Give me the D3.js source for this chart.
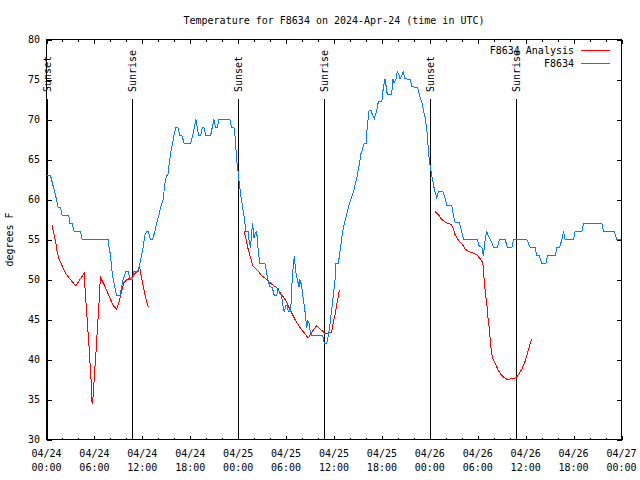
<!DOCTYPE html>
<html>
<head>
<meta charset="utf-8">
<script src="https://cdn.jsdelivr.net/npm/d3@7"></script>
<style>
  html, body { margin: 0; padding: 0; background: #fff; }
  svg text { font-family: "DejaVu Sans Mono", "Liberation Mono", monospace; font-size: 10px; fill: #000; }
</style>
</head>
<body>
<svg id="chart" width="640" height="480"></svg>
<script>
// ---- DATA (hours since 2024-04-24 00:00 UTC) ----
const obsHours = [0.08,0.5,0.63,0.83,1.04,1.25,1.45,1.75,1.95,2.8,2.92,3.2,3.46,4.26,4.46,7.72,7.84,8.02,8.15,8.35,8.56,8.77,9.19,9.4,9.6,9.94,10.23,10.44,10.78,10.94,11.48,11.69,11.9,12.1,12.32,12.53,12.73,13.03,13.28,13.57,13.78,14.07,14.29,14.61,14.82,15.04,15.2,15.36,15.58,15.79,15.95,16.2,16.45,16.7,16.95,17.24,18.05,18.3,18.5,18.71,18.87,19.05,19.3,19.5,19.71,19.96,20.55,20.75,20.96,21.18,21.38,21.59,22.97,23.18,23.47,23.6,23.81,24.01,24.14,24.35,24.56,24.72,24.97,25.26,25.39,25.56,25.69,25.81,25.98,26.14,26.32,26.52,26.73,27.36,27.57,27.77,27.98,28.27,28.52,28.82,29.02,29.24,29.45,29.65,29.77,29.95,30.15,30.28,30.58,30.7,30.9,31.03,31.2,31.45,31.62,31.74,31.95,32.16,32.37,32.58,32.71,32.87,32.99,33.21,34.59,34.79,35.09,35.29,35.5,35.71,35.91,36.13,36.25,36.54,36.75,36.97,37.17,37.38,37.59,37.79,38.1,38.51,38.85,39.14,39.39,39.55,39.76,40.01,40.17,40.39,40.64,40.85,41.05,41.35,41.55,41.98,42.18,42.39,42.52,42.68,43.23,43.36,43.52,43.73,43.93,44.15,44.27,44.49,44.65,44.9,45.53,45.74,46.49,46.69,46.99,47.19,47.41,47.62,47.78,47.94,48.16,48.37,48.57,48.87,49.07,49.62,49.91,50.13,50.75,50.95,51.16,51.7,52.0,52.21,53.96,54.17,54.51,54.71,54.93,55.14,55.34,55.55,55.76,55.97,56.47,56.72,57.43,57.72,58.27,58.47,60.15,60.56,61.19,61.4,61.69,62.03,62.53,62.73,63.7,63.91,64.24,64.54,64.74,64.95,65.99,66.2,67.04,67.24,69.55,69.75,71.09,71.43,71.97];
const obsTemps = [63,63,62.5,61.7,60.9,60,59,59,58,58,57,57,56,56,55,55,54,53,51.5,50,49,48,48,49,50,51,51,50,50,51,51,52,53,54,55.5,56,56,55,55,56,57,58,59,60,62,63,63,64.5,66,67,68,69,69,68,68,67,67,68,69,70,69,68,68,69,69,68,68,69,70,69,69,70,70,69,69,68,65,63.3,62,60.4,59,58,56,56,54.6,54,56,57,55.2,55.8,56,53.5,52,52,50.8,49.8,49.1,49,48,48,48.8,48.2,47.9,46.5,45.9,46.7,46.7,46,46,49,51.7,52.9,51,49.8,49.1,50,49.2,47.5,46,44,44.8,44.6,43.75,43,43,42,42,43,44.4,46.25,47.9,50,52,52,53.5,55.2,56.5,57.3,58.1,59,60,61.25,62.7,64.2,65.8,66.2,67,67,69.2,71.1,71.1,70.5,70.1,71.1,72.2,72.2,74,75.1,74.2,73.1,73.1,75.1,74.6,74.9,76,75.5,75.1,75.5,76,75.1,75,74.1,74,73.1,72.2,71.25,70.2,68.75,66.7,64.8,63.5,62.3,61.25,60.2,61,61,60.2,59.2,59.2,58.1,57.1,57.1,56,55,55,54.2,54,53,55,56,55.4,55,54.6,54,54,55,55,54,54,55,55,54,54,53,53,52,52,53,53,54,54,55,56,55,55,56,56,57,57,56,56,55,55];

// Analysis series: three separate runs
const anaHours1 = [0.7,0.91,1.13,1.33,1.58,1.88,2.17,2.51,2.92,3.33,3.67,4.17,4.71,4.89,5.05,5.21,5.34,5.46,5.59,5.71,5.84,5.96,6.09,6.22,6.34,6.47,6.59,6.68,6.8,7.09,7.52,7.93,8.35,8.77,9.1,9.4,9.69,10.1,10.65,11.07,11.69,11.9,12.1,12.32,12.53,12.73];
const anaTemps1 = [56.75,55.8,54.8,53.5,52.5,51.9,51.25,50.6,50.1,49.6,49.2,50,50.75,47.9,45.6,43.3,41.5,39.4,37.3,34.4,35.4,37.3,39.4,41.25,43.3,45.4,47.3,49.25,50.2,49.6,48.7,47.7,46.75,46.25,47.3,48.5,49.6,50,50.2,50.75,51.4,50.2,49.2,48.1,47.3,46.6];
const anaHours2 = [24.76,24.97,25.26,25.56,25.81,26.32,26.94,27.57,28.2,28.82,29.45,29.99,30.49,31.12,31.74,32.37,32.78,33.28,33.83,34.34,34.87,35.29,35.71,35.91,36.13,36.34,36.54,36.67];
const anaTemps2 = [56,55.1,53.75,52.7,51.75,51.25,50.5,50,49.4,49,48.1,47.3,46.25,45,44,43.2,42.7,43.5,44.25,43.75,43.25,43.3,43.4,44.6,45.6,46.9,47.9,48.75];
const anaHours3 = [48.66,49.07,49.5,50.04,50.63,50.88,51.16,51.58,52.0,52.42,52.83,53.46,53.88,54.3,54.64,54.8,54.96,55.14,55.26,55.43,55.55,55.68,55.84,56.18,56.52,56.8,57.22,57.72,58.27,58.77,59.1,59.52,59.94,60.23,60.48,60.73];
const anaTemps3 = [58.5,58.1,57.5,57.1,56.9,56.5,55.6,54.9,54.5,53.8,53.5,53.3,53.1,52.6,52.1,50,48.3,46.9,45.4,44,42.7,41.25,40.2,39.5,38.75,38.25,37.8,37.5,37.6,37.7,38.1,38.8,39.8,40.8,41.7,42.5];

const sunEventHours = [0.03, 10.73, 24.02, 34.79, 48.08, 58.77];
const sunEventLabels = ["Sunset","Sunrise","Sunset","Sunrise","Sunset","Sunrise"];

const xTickHours = [0,6,12,18,24,30,36,42,48,54,60,66,72];
const xTickDates = ["04/24","04/24","04/24","04/24","04/25","04/25","04/25","04/25","04/26","04/26","04/26","04/26","04/27"];
const xTickTimes = ["00:00","06:00","12:00","18:00","00:00","06:00","12:00","18:00","00:00","06:00","12:00","18:00","00:00"];
const yTicks = [30,35,40,45,50,55,60,65,70,75,80];

const titleText = "Temperature for F8634 on 2024-Apr-24 (time in UTC)";
const yLabel = "degrees F";
const seriesNames = ["F8634 Analysis", "F8634"];
const seriesColors = ["#ff0000", "#0080ff"];

// ---- DRAW ----
const svg = d3.select("#chart");
const L = 46.5, R = 621.5, T = 39.5, B = 439.5;
const x = d3.scaleLinear().domain([0, 72]).range([L, R]);
const y = d3.scaleLinear().domain([30, 80]).range([B, T]);

// title
svg.append("text").attr("x", (L + R) / 2).attr("y", 24).attr("text-anchor", "middle").text(titleText);

// y label
svg.append("text").attr("transform", `translate(13,${(T + B) / 2}) rotate(-90)`)
  .attr("text-anchor", "middle").text(yLabel);

const clip = svg.append("defs").append("clipPath").attr("id", "plotclip");
clip.append("rect").attr("x", L).attr("y", T).attr("width", R - L).attr("height", B - T);

// axes via d3.axis, ticks drawn inward
const minorHours = d3.range(0, 73, 2);
const axB = svg.append("g").attr("transform", `translate(0,${B})`)
  .call(d3.axisBottom(x).tickValues(minorHours).tickSizeInner(-2).tickSizeOuter(0).tickFormat(""));
const axT = svg.append("g").attr("transform", `translate(0,${T})`)
  .call(d3.axisTop(x).tickValues(minorHours).tickSizeInner(-2).tickSizeOuter(0).tickFormat(""));
const axBM = svg.append("g").attr("transform", `translate(0,${B})`)
  .call(d3.axisBottom(x).tickValues(xTickHours).tickSizeInner(-4).tickSizeOuter(0).tickFormat(""));
const axTM = svg.append("g").attr("transform", `translate(0,${T})`)
  .call(d3.axisTop(x).tickValues(xTickHours).tickSizeInner(-4).tickSizeOuter(0).tickFormat(""));
const axL = svg.append("g").attr("transform", `translate(${L},0)`)
  .call(d3.axisLeft(y).tickValues(yTicks).tickSizeInner(-5).tickSizeOuter(0).tickPadding(0).tickFormat(""));
const axR = svg.append("g").attr("transform", `translate(${R},0)`)
  .call(d3.axisRight(y).tickValues(yTicks).tickSizeInner(-5).tickSizeOuter(0).tickFormat(""));
[axB, axT, axBM, axTM, axL, axR].forEach(g => {
  g.selectAll(".domain").remove();
  g.selectAll("line").attr("stroke", "#000").attr("shape-rendering", "crispEdges");
});

// y tick labels
svg.append("g").selectAll("text").data(yTicks).join("text")
  .attr("x", 40).attr("y", d => y(d)).attr("dy", "0.35em").attr("text-anchor", "end")
  .text(d => d);

// x tick labels
const xl = svg.append("g").selectAll("g").data(xTickHours).join("g")
  .attr("transform", d => `translate(${x(d)},0)`);
xl.append("text").attr("y", 457).attr("text-anchor", "middle").text((d, i) => xTickDates[i]);
xl.append("text").attr("y", 471).attr("text-anchor", "middle").text((d, i) => xTickTimes[i]);

// border
svg.append("rect").attr("x", L).attr("y", T).attr("width", R - L).attr("height", B - T)
  .attr("fill", "none").attr("stroke", "#000").attr("shape-rendering", "crispEdges");

// sun events
const sun = svg.append("g");
sun.selectAll("line").data(sunEventHours).join("line")
  .attr("x1", d => Math.round(x(d)) + 0.5).attr("x2", d => Math.round(x(d)) + 0.5)
  .attr("y1", 99).attr("y2", B).attr("stroke", "#000").attr("shape-rendering", "crispEdges");
sun.selectAll("text").data(sunEventHours).join("text")
  .attr("transform", d => `translate(${x(d) + 4},92) rotate(-90)`)
  .attr("text-anchor", "start")
  .text((d, i) => sunEventLabels[i]);

// series lines
const line = d3.line().x(d => x(d[0])).y(d => y(d[1]));
const plot = svg.append("g").attr("clip-path", "url(#plotclip)");
const anaRuns = [[anaHours1, anaTemps1], [anaHours2, anaTemps2], [anaHours3, anaTemps3]];
anaRuns.forEach(([hs, ts]) => {
  plot.append("path").datum(hs.map((h, i) => [h, ts[i]]))
    .attr("d", line).attr("fill", "none").attr("stroke", seriesColors[0]).attr("stroke-width", 1)
    .attr("shape-rendering", "crispEdges");
});
plot.append("path").datum(obsHours.map((h, i) => [h, obsTemps[i]]))
  .attr("d", line).attr("fill", "none").attr("stroke", seriesColors[1]).attr("stroke-width", 1)
  .attr("shape-rendering", "crispEdges");

// legend
const leg = svg.append("g").selectAll("g").data(seriesNames).join("g")
  .attr("transform", (d, i) => `translate(0,${50 + i * 13})`);
leg.append("text").attr("x", 574).attr("dy", "0.35em").attr("text-anchor", "end").text(d => d);
leg.append("line").attr("x1", 581).attr("x2", 610).attr("y1", 0.5).attr("y2", 0.5)
  .attr("stroke", (d, i) => seriesColors[i]).attr("shape-rendering", "crispEdges");
</script>
</body>
</html>
